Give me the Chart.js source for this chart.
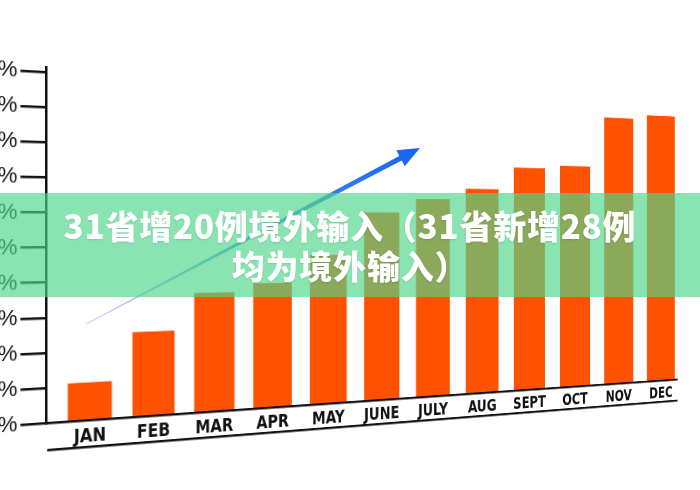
<!DOCTYPE html>
<html lang="zh">
<head>
<meta charset="utf-8">
<title>31省增20例境外输入</title>
<script src="https://cdn.jsdelivr.net/npm/chart.js@4.4.1/dist/chart.umd.min.js"></script>
<style>
  html, body { margin: 0; padding: 0; width: 700px; height: 490px; overflow: hidden; background: #fff; }
  #stage { position: relative; width: 700px; height: 490px; overflow: hidden; }
  #tilt { position: absolute; left: 0; top: 0; transform: perspective(504px) rotateY(10deg); }
  #arrow { position: absolute; left: 0; top: 0; }
  #banner {
    position: absolute; left: 0; top: 193px; width: 700px; height: 104px;
    background: rgba(78, 214, 138, 0.66);
    display: flex; align-items: center; justify-content: center; text-align: center;
    color: #fff; font-family: "Noto Sans CJK SC", sans-serif; font-weight: 900;
    font-size: 33px; line-height: 40px; letter-spacing: 0.8px;
    text-shadow: 0 1px 2px rgba(0, 0, 0, 0.12);
  }
</style>
</head>
<body>
<div id="stage">
  <div id="tilt"><canvas id="monthChart" width="920" height="520"></canvas></div>
  <svg id="arrow" width="700" height="490" viewBox="0 0 700 490">
    <defs>
      <linearGradient id="arrowFade" gradientUnits="userSpaceOnUse" x1="86" y1="324" x2="420" y2="148">
        <stop offset="0" stop-color="#9dbbe8" stop-opacity="0.5"/>
        <stop offset="0.45" stop-color="#5a93ea"/>
        <stop offset="1" stop-color="#1565f2"/>
      </linearGradient>
    </defs>
    <polygon fill="url(#arrowFade)"
      points="85.7,323.4 86.3,324.6 401.7,160.5 404.7,166.3 420,148 396.3,150.3 399.3,156.1"/>
  </svg>
  <div id="banner">31省增20例境外输入（31省新增28例<br>均为境外输入）</div>
</div>

<script>
// data
const months = ["JAN", "FEB", "MAR", "APR", "MAY", "JUNE", "JULY", "AUG", "SEPT", "OCT", "NOV", "DEC"];
const shares = [11, 25, 36, 38.5, 47, 60.5, 65, 68.5, 76, 77, 94.5, 96];
const yTicks = [0, 10, 20, 30, 40, 50, 60, 70, 80, 90, 100];

// frame of the photographed chart (screen px)
const AXIS_X = 46;
const AREA_TOP = 66.7;
const AREA_H = 356.3;
const AREA_W = 822.5;
const HORIZON_Y = 225;

Chart.defaults.font.family = "'Liberation Sans', Arial, sans-serif";
Chart.defaults.color = "#111";

// second rule under the month labels
const underline = {
  id: "underline",
  afterDraw(chart) {
    const { ctx, chartArea } = chart;
    ctx.save();
    ctx.strokeStyle = "#111";
    ctx.lineWidth = 2.5;
    ctx.beginPath();
    ctx.moveTo(chartArea.left + 1, chartArea.bottom + 27);
    ctx.lineTo(chartArea.right, chartArea.bottom + 27);
    ctx.stroke();
    ctx.restore();
  },
};

function initMonthChart() {
  const canvas = document.getElementById("monthChart");
  return new Chart(canvas.getContext("2d"), {
    type: "bar",
    data: {
      datasets: [
        {
          data: shares.map((v, i) => ({ x: i, y: v })),
          backgroundColor: "#ff5200",
          borderWidth: 0,
          categoryPercentage: 1,
          barPercentage: 0.676,
        },
      ],
    },
    plugins: [underline],
    options: {
      responsive: false,
      animation: false,
      layout: { padding: { top: 40, right: 20, bottom: 30, left: 0 } },
      plugins: { legend: { display: false }, tooltip: { enabled: false } },
      scales: {
        x: {
          type: "linear",
          offset: false,
          min: -0.661,
          max: 11.4,
          afterBuildTicks: (axis) => {
            axis.ticks = months.map((m, i) => ({ value: i }));
          },
          grid: { offset: false, drawOnChartArea: false, drawTicks: false },
          border: { display: true, color: "#111", width: 2.5 },
          ticks: {
            autoSkip: false,
            maxRotation: 0,
            padding: 5,
            color: "#111",
            font: { family: "'Liberation Sans Narrow', 'DejaVu Sans Condensed', sans-serif", size: 19, weight: "bold" },
            callback: (v) => months[v] || "",
          },
        },
        y: {
          min: 0,
          max: 101.4,
          afterBuildTicks: (axis) => {
            axis.ticks = yTicks.map((v) => ({ value: v }));
          },
          grid: { drawOnChartArea: false, drawTicks: true, tickLength: 26, color: "#111", lineWidth: 2.5 },
          border: { display: true, color: "#111", width: 2.5 },
          ticks: {
            autoSkip: false,
            padding: 3,
            color: "#111",
            font: { size: 22 },
            callback: (v) => v + "%",
          },
        },
      },
    },
  });
}

// size the chart area to the reference, then tilt it like the photo
function fitToFrame(chart) {
  const pad = chart.options.layout.padding;
  let a = chart.chartArea;
  pad.right += (a.right - a.left) - AREA_W;
  pad.bottom += (a.bottom - a.top) - AREA_H;
  chart.update("none");
  a = chart.chartArea;
  const tilt = document.getElementById("tilt");
  const top = AREA_TOP - a.top;
  tilt.style.left = (AXIS_X - a.left) + "px";
  tilt.style.top = top + "px";
  tilt.style.transformOrigin = a.left + "px " + (HORIZON_Y - top) + "px";
}

const chart = initMonthChart();
fitToFrame(chart);
</script>
</body>
</html>
